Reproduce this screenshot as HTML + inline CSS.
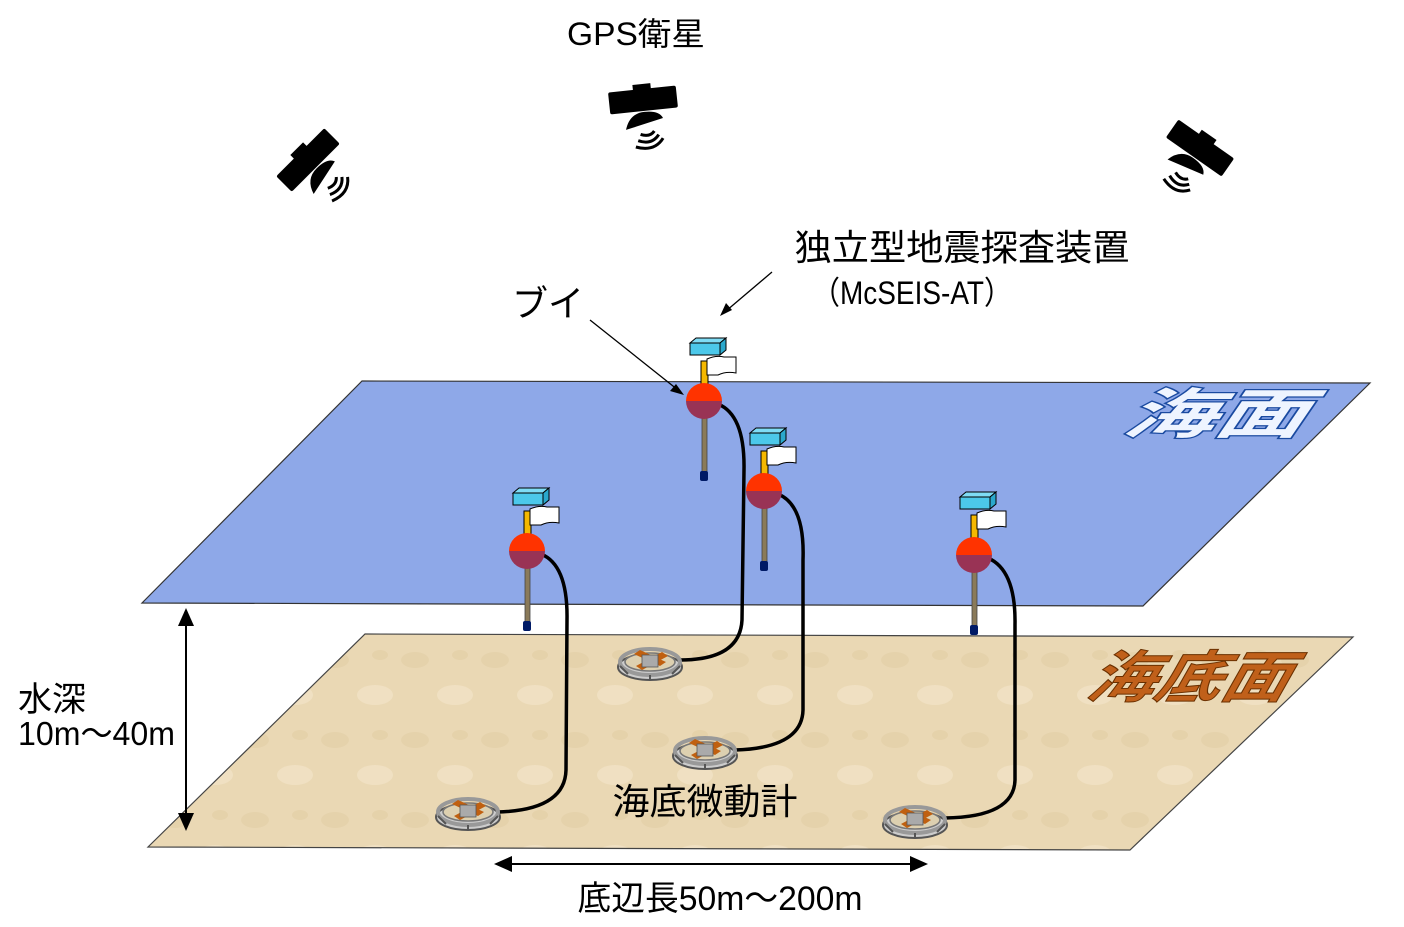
<!DOCTYPE html>
<html><head><meta charset="utf-8"><style>
body{margin:0;background:#fff;}
svg{display:block;}
text{font-family:"Liberation Sans","Noto Sans CJK JP",sans-serif;}
</style></head><body>
<svg width="1404" height="927" viewBox="0 0 1404 927">
<defs>
<g id="sat">
<rect x="-34" y="-11" width="68" height="22" rx="2" fill="#000"/>
<rect x="-9" y="-16" width="18" height="8" fill="#000"/>
<path d="M-20 28 Q-15 12 0 12 Q15 12 18 20 Z" fill="#000"/>
<path d="M-6 34 Q3 38 8 32" stroke="#000" stroke-width="3" fill="none"/>
<path d="M-9 40 Q4 46 12 36" stroke="#000" stroke-width="3" fill="none"/>
<path d="M-12 46 Q6 53 16 40" stroke="#000" stroke-width="3" fill="none"/>
</g>
<g id="buoy">
<rect x="-3" y="-40" width="7" height="40" fill="#f5b800" stroke="#000" stroke-width="1"/>
<path d="M3 -42 Q12 -46 20 -44 L32 -44 L32 -28 Q22 -30 14 -26 L3 -26 Z" fill="#fff" stroke="#000" stroke-width="1"/>
<path d="M-14 -58 L16 -58 L16 -46 L-14 -46 Z" fill="#4cc8ea" stroke="#000" stroke-width="1"/>
<path d="M-14 -58 L-8 -63 L22 -63 L16 -58 Z" fill="#7fdcf5" stroke="#000" stroke-width="1"/>
<path d="M16 -58 L22 -63 L22 -51 L16 -46 Z" fill="#2aa8cc" stroke="#000" stroke-width="1"/>
<rect x="-2" y="15" width="5" height="60" fill="#8a7a5a" stroke="#444" stroke-width="0.8"/>
<rect x="-4" y="70" width="8" height="10" rx="2" fill="#001a66"/>
<path d="M-18 0 A18 18 0 0 1 18 0 Z" fill="#ff3300"/>
<path d="M-18 0 A18 18 0 0 0 18 0 Z" fill="#993355"/>
</g>
<g id="dev">
<ellipse cx="0" cy="5" rx="32" ry="13" fill="#ccc" stroke="#555" stroke-width="2"/>
<ellipse cx="0" cy="0" rx="30" ry="13" fill="none" stroke="#999" stroke-width="4"/>
<ellipse cx="0" cy="0" rx="25" ry="9" fill="#ddd0b0" stroke="#777" stroke-width="1.5"/>
<path d="M-16 -8 L10 4 L16 0 L-10 -12 Z" fill="#c06010"/>
<path d="M-14 4 L12 -10 L18 -6 L-8 8 Z" fill="#c06010"/>
<rect x="-8" y="-7" width="16" height="12" fill="#aaa" stroke="#555" stroke-width="0.8"/>
<path d="M-30 4 L-22 12 M30 4 L22 12 M0 13 L0 18" stroke="#555" stroke-width="2"/>
</g>
<pattern id="sand" width="80" height="80" patternUnits="userSpaceOnUse">
<rect width="80" height="80" fill="#ead8b4"/>
<ellipse cx="15" cy="20" rx="14" ry="8" fill="#e0cca2" opacity="0.5"/>
<ellipse cx="55" cy="55" rx="18" ry="10" fill="#f3e6cc" opacity="0.6"/>
<ellipse cx="60" cy="15" rx="8" ry="5" fill="#dcc597" opacity="0.35"/>
</pattern>
</defs>

<text x="636" y="45" font-size="32" text-anchor="middle" textLength="138" lengthAdjust="spacingAndGlyphs">GPS衛星</text>
<use href="#sat" transform="translate(643,100) rotate(-6)"/>
<use href="#sat" transform="translate(308,160) rotate(-45)"/>
<use href="#sat" transform="translate(1200,148) rotate(35)"/>

<text x="962" y="260" font-size="36" text-anchor="middle" textLength="335" lengthAdjust="spacingAndGlyphs">独立型地震探査装置</text>
<text x="912" y="304" font-size="32" text-anchor="middle" textLength="200" lengthAdjust="spacingAndGlyphs">（McSEIS-AT）</text>
<text x="548" y="316" font-size="36" text-anchor="middle">ブイ</text>

<!-- seafloor -->
<polygon points="365,634 1353,637 1130,850 148,847" fill="url(#sand)" stroke="#444" stroke-width="1.2"/>
<text x="1185" y="697" font-size="56" font-style="italic" fill="#c0601a" stroke="#6a3000" stroke-width="1" text-anchor="middle" font-weight="bold" textLength="200" lengthAdjust="spacingAndGlyphs" transform="skewX(-15) translate(187,0)">海底面</text>

<!-- sea surface -->
<polygon points="362,381 1370,383 1143,606 142,603" fill="#8ea8e8" stroke="#333" stroke-width="1.2"/>
<text x="1215" y="433" font-size="54" font-style="italic" fill="#eef4ff" stroke="#1a4aa0" stroke-width="2.5" paint-order="stroke" text-anchor="middle" font-weight="bold" textLength="180" lengthAdjust="spacingAndGlyphs" transform="skewX(-15) translate(113,0)">海面</text>

<!-- arrows -->
<line x1="590" y1="320" x2="678" y2="390" stroke="#000" stroke-width="1.3"/>
<polygon points="684,395 670,391 676,384" fill="#000"/>
<line x1="772" y1="272" x2="726" y2="311" stroke="#000" stroke-width="1.3"/>
<polygon points="720,316 726,303 732,310" fill="#000"/>

<!-- cables -->
<g stroke="#000" stroke-width="3.5" fill="none">
<path d="M718 404 Q745 415 744 470 L742 620 Q740 660 680 660"/>
<path d="M778 494 Q805 505 803 560 L803 710 Q802 748 735 750"/>
<path d="M541 554 Q568 565 567 620 L566 770 Q565 810 498 812"/>
<path d="M988 558 Q1016 570 1015 625 L1015 780 Q1014 817 945 818"/>
</g>

<use href="#buoy" transform="translate(704,401)"/>
<use href="#buoy" transform="translate(764,491)"/>
<use href="#buoy" transform="translate(527,551)"/>
<use href="#buoy" transform="translate(974,555)"/>

<use href="#dev" transform="translate(650,662)"/>
<use href="#dev" transform="translate(705,751)"/>
<use href="#dev" transform="translate(468,812)"/>
<use href="#dev" transform="translate(915,820)"/>

<text x="705" y="814" font-size="36" text-anchor="middle" textLength="185" lengthAdjust="spacingAndGlyphs">海底微動計</text>

<!-- depth arrow -->
<line x1="186" y1="622" x2="186" y2="815" stroke="#000" stroke-width="2"/>
<polygon points="186,608 178,626 194,626" fill="#000"/>
<polygon points="186,831 178,813 194,813" fill="#000"/>
<text x="18" y="711" font-size="34">水深</text>
<text x="18" y="745" font-size="33" textLength="157" lengthAdjust="spacingAndGlyphs">10m～40m</text>

<!-- base arrow -->
<line x1="510" y1="864" x2="912" y2="864" stroke="#000" stroke-width="2"/>
<polygon points="494,864 512,856 512,872" fill="#000"/>
<polygon points="928,864 910,856 910,872" fill="#000"/>
<text x="720" y="910" font-size="34" text-anchor="middle" textLength="285" lengthAdjust="spacingAndGlyphs">底辺長50m～200m</text>
</svg>
</body></html>
